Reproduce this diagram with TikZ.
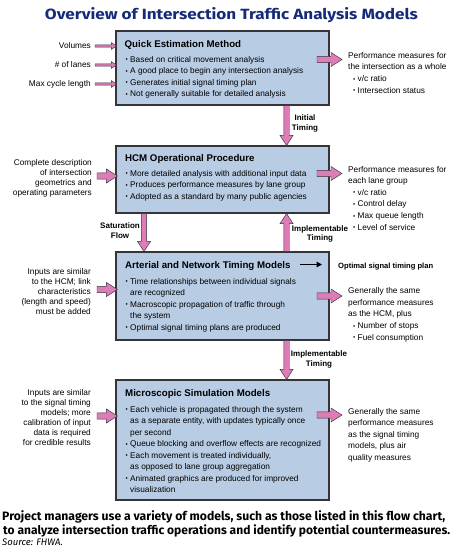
\documentclass[tikz,border=0pt]{standalone}
\usepackage{fontspec}
\setmainfont{Liberation Sans}
\newfontfamily\capfont{Fira Sans}
\usetikzlibrary{calc,arrows.meta,positioning}

\definecolor{boxblue}{RGB}{184,204,228}
\definecolor{arrowpink}{RGB}{222,124,184}
\definecolor{titleblue}{RGB}{22,42,122}
\definecolor{edgegray}{RGB}{52,52,58}

\newcommand{\bul}{\makebox[4.5pt][l]{\raisebox{.4pt}{\scalebox{.75}{\textbullet}}}}
\newcommand{\ind}{\hspace*{4.5pt}}

\begin{document}
\begin{tikzpicture}[x=1pt,y=-1pt,
  modelbox/.style={draw=edgegray,line width=1.1pt,fill=boxblue,minimum width=213pt,inner sep=0pt},
  boxtitle/.style={anchor=base west,inner sep=0pt,font=\fontsize{9.7}{11}\selectfont\bfseries},
  boxtext/.style={anchor=base west,inner sep=0pt,align=left,font=\fontsize{8.3}{11.5}\selectfont},
  lefttext/.style={anchor=base east,inner sep=0pt,align=right,font=\fontsize{8.3}{10}\selectfont},
  righttext/.style={anchor=base west,inner sep=0pt,align=left,font=\fontsize{8.3}{11.6}\selectfont},
  flowlabel/.style={anchor=base,inner sep=0pt,align=center,font=\fontsize{8}{9.5}\selectfont\bfseries},
  arrowshape/.style n args={3}{draw=edgegray,line width=.45pt,fill=arrowpink,
    to path={let \p1=($(\tikztotarget)!#3!(\tikztostart)$) in
      ($(\tikztostart)!#1!90:(\tikztotarget)$) -- ($(\p1)!#1!-90:(\tikztostart)$)
      -- ($(\p1)!#2!-90:(\tikztostart)$) -- (\tikztotarget)
      -- ($(\p1)!#2!90:(\tikztostart)$) -- ($(\p1)!#1!90:(\tikztostart)$)
      -- ($(\tikztostart)!#1!-90:(\tikztotarget)$) -- cycle}},
  fatv/.style={arrowshape={2.7pt}{6.5pt}{10pt}},
  fath/.style={arrowshape={3.2pt}{7pt}{11pt}},
  thinh/.style={arrowshape={1.2pt}{3.3pt}{5pt}}]
  \useasboundingbox[fill=white] (0,0) rectangle (462,551);

  \node[anchor=base,inner sep=0pt,text=titleblue,font=\capfont\bfseries] (title) at (231.5,20)
    {\resizebox{373pt}{12pt}{Overview of Intersection Traffic Analysis Models}};

  % the four models
  \node[modelbox,minimum height=74pt] (quick) at (222.5,68) {};
  \node[modelbox,minimum height=67pt] (hcm) at (222.5,179.5) {};
  \node[modelbox,minimum height=88pt] (arterial) at (222.5,296) {};
  \node[modelbox,minimum height=120pt] (micro) at (222.5,440) {};

  % multi-line nodes sit on the baseline of their last line
  \node[boxtitle] (quicktitle) at (124.5,47.5) {Quick Estimation Method};
  \node[boxtext] (quicklist) at (125.5,96.5) {\bul Based on critical movement analysis\\
    \bul A good place to begin any intersection analysis\\
    \bul Generates initial signal timing plan\\
    \bul Not generally suitable for detailed analysis};

  \node[boxtitle] (hcmtitle) at (125,161.5) {HCM Operational Procedure};
  \node[boxtext] (hcmlist) at (125.5,199) {\bul More detailed analysis with additional input data\\
    \bul Produces performance measures by lane group\\
    \bul Adopted as a standard by many public agencies};

  \node[boxtitle] (arterialtitle) at (125,268.5) {Arterial and Network Timing Models};
  \node[boxtext] (arteriallist) at (125.5,330) {\bul Time relationships between individual signals\\
    \ind are recognized\\
    \bul Macroscopic propagation of traffic through\\
    \ind the system\\
    \bul Optimal signal timing plans are produced};

  \node[boxtitle] (microtitle) at (125,396.5) {Microscopic Simulation Models};
  \node[boxtext] (microlist) at (125.5,492.5) {\bul Each vehicle is propagated through the system\\
    \ind as a separate entity, with updates typically once\\
    \ind per second\\
    \bul Queue blocking and overflow effects are recognized\\
    \bul Each movement is treated individually,\\
    \ind as opposed to lane group aggregation\\
    \bul Animated graphics are produced for improved\\
    \ind visualization};

  % inputs
  \node[lefttext] (volumes) at (91,48.5) {Volumes};
  \node[lefttext] (lanes) at (91,67) {\# of lanes};
  \node[lefttext] (cycle) at (91,86.5) {Max cycle length};
  \node[lefttext] (hcmin) at (92,195) {Complete description\\of intersection\\geometrics and\\operating parameters};
  \node[lefttext] (arterialin) at (91,314.5) {Inputs are similar\\to the HCM; link\\characteristics\\(length and speed)\\must be added};
  \node[lefttext] (microin) at (91,445.5) {Inputs are similar\\to the signal timing\\models; more\\calibration of input\\data is required\\for credible results};

  % outputs
  \node[righttext] (quickout) at (348,93) {Performance measures for\\the intersection as a whole\\
    \hspace*{5pt}\bul v/c ratio\\\hspace*{5pt}\bul Intersection status};
  \node[righttext] (hcmout) at (348,230) {Performance measures for\\each lane group\\
    \hspace*{5pt}\bul v/c ratio\\\hspace*{5pt}\bul Control delay\\
    \hspace*{5pt}\bul Max queue length\\\hspace*{5pt}\bul Level of service};
  \node[righttext] (arterialout) at (348,340) {Generally the same\\performance measures\\as the HCM, plus\\
    \hspace*{5pt}\bul Number of stops\\\hspace*{5pt}\bul Fuel consumption};
  \node[righttext] (microout) at (348,460.5) {Generally the same\\performance measures\\as the signal timing\\models, plus air\\quality measures};
  \node[anchor=base west,inner sep=0pt,font=\fontsize{7.6}{9}\selectfont\bfseries] (optimal) at (338,268) {Optimal signal timing plan};

  % flow labels
  \node[flowlabel] (initial) at (305,130) {Initial\\Timing};
  \node[flowlabel] (saturation) at (120,238) {Saturation\\Flow};
  \node[flowlabel] (implement1) at (320,240.5) {Implementable\\Timing};
  \node[flowlabel] (implement2) at (319,366) {Implementable\\Timing};

  % connectors
  \foreach \yy/\k in {46/1,65/2,84/3} {
    \coordinate (in\k) at (95,\yy);
    \coordinate (quickin\k) at ([xshift=1pt]quick.west |- in\k);
    \draw[thinh] (in\k) to (quickin\k);
  }
  \foreach \yy/\bx in {176/hcm,289.5/arterial,416/micro} {
    \coordinate (\bx left) at (97,\yy);
    \coordinate (\bx enter) at ([xshift=2pt]\bx.west |- \bx left);
    \draw[fath] (\bx left) to (\bx enter);
  }
  \foreach \yy/\bx in {59.5/quick,173.5/hcm,296/arterial,415/micro} {
    \coordinate (\bx exit) at (317,\yy);
    \coordinate (\bx right) at (342,\yy);
    \draw[fath] (\bx exit) to (\bx right);
  }
  \coordinate (quickdown) at ([xshift=-43pt]quick.south east);
  \coordinate (hcmtop) at ([xshift=-43pt]hcm.north east);
  \coordinate (hcmdown) at ([xshift=-78.5pt]hcm.south);
  \coordinate (hcmup) at ([xshift=-43pt]hcm.south east);
  \coordinate (arterialtop) at (arterial.north -| hcmdown);
  \coordinate (arterialup) at ([xshift=-43pt]arterial.north east);
  \coordinate (arterialdown) at ([xshift=-43pt]arterial.south east);
  \coordinate (microtop) at ([xshift=-43pt]micro.north east);
  \draw[fatv] (quickdown) to (hcmtop);
  \draw[fatv] (hcmdown) to (arterialtop);
  \draw[fatv] (arterialup) to (hcmup);
  \draw[fatv] (arterialdown) to (microtop);

  \coordinate (planstart) at (300,264.5);
  \coordinate (planend) at (322,264.5);
  \draw[line width=1.3pt,-{Triangle[length=5.5pt,width=5.5pt]}] (planstart) -- (planend);

  % caption
  \node[anchor=base west,inner sep=0pt,font=\capfont\bfseries] (caption1) at (2,520)
    {\resizebox{443pt}{!}{Project managers use a variety of models, such as those listed in this flow chart,}};
  \node[anchor=base west,inner sep=0pt,font=\capfont\bfseries] (caption2) at (3,534)
    {\resizebox{447pt}{!}{to analyze intersection traffic operations and identify potential countermeasures.}};
  \node[anchor=base west,inner sep=0pt,font=\capfont\itshape\fontsize{9.5}{11}\selectfont] (source) at (2,545.5) {Source: FHWA.};
\end{tikzpicture}
\end{document}
